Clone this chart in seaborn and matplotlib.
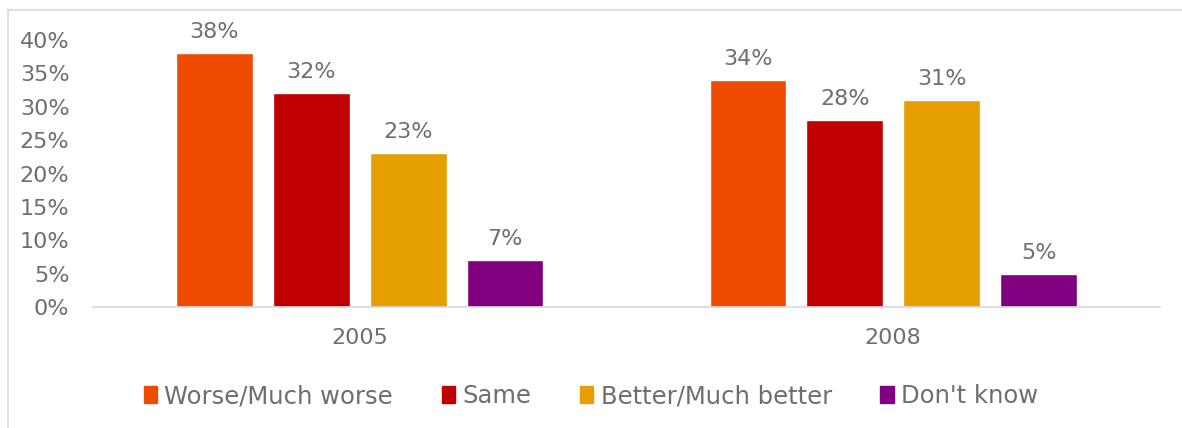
import matplotlib
matplotlib.use("Agg")
import matplotlib.pyplot as plt
import matplotlib.patches as mpatches
import pandas as pd
import seaborn as sns

years = ["2005", "2008"]
responses = ["Worse/Much worse", "Same", "Better/Much better", "Don't know"]
worse = [38, 34]
same = [32, 28]
better = [23, 31]
dont_know = [7, 5]
colors = ["#EE4B00", "#C00000", "#E69F00", "#800080"]
yticks = [0, 5, 10, 15, 20, 25, 30, 35, 40]

rows = []
for series, vals in zip(responses, [worse, same, better, dont_know]):
    for yr, v in zip(years, vals):
        rows.append({"year": yr, "response": series, "value": v})
df = pd.DataFrame(rows)

sns.set_theme(style="white")
plt.rcParams["font.family"] = ["DejaVu Sans"]
text_color = "#6E6E6E"
fs = 16

fig = plt.figure(figsize=(11.82, 4.28), dpi=100)
ax = fig.add_axes([93 / 1182, 1 - 307 / 428, (1160 - 93) / 1182, (307 - 40) / 428])

sns.barplot(data=df, x="year", y="value", hue="response", order=years,
            hue_order=responses, palette=colors, width=0.727, gap=0.21,
            saturation=1, ax=ax, legend=False)

for container in ax.containers:
    ax.bar_label(container, labels=[f"{v:.0f}%" for v in container.datavalues],
                 padding=8, fontsize=fs, color=text_color)

ax.set_ylim(0, 40)
ax.set_yticks(yticks)
ax.set_yticklabels([f"{t}%" for t in yticks])
ax.set_xlim(-0.5, 1.5)
ax.set_xlabel("")
ax.set_ylabel("")
ax.tick_params(axis="y", length=0, pad=17, labelsize=fs, labelcolor=text_color)
ax.tick_params(axis="x", length=0, pad=15, labelsize=fs, labelcolor=text_color)
for s in ["left", "right", "top"]:
    ax.spines[s].set_visible(False)
ax.spines["bottom"].set_color("#D9D9D9")
ax.spines["bottom"].set_linewidth(1.2)

handles = [mpatches.Patch(color=c, label=l) for c, l in zip(colors, responses)]
fig.legend(handles=handles, loc="center", bbox_to_anchor=(0.5, 1 - 396 / 428),
           ncol=4, frameon=False, fontsize=17.5, labelcolor=text_color,
           handlelength=0.55, handleheight=0.75, handletextpad=0.3, columnspacing=2.0)

# frame around the chart area
fig.patches.append(mpatches.Rectangle((8 / 1182, -0.1), 1.2, 1 - 10 / 428 + 0.1,
                                      transform=fig.transFigure, fill=False,
                                      edgecolor="#D9D9D9", linewidth=1.2))

fig.savefig("out.png", dpi=100)
